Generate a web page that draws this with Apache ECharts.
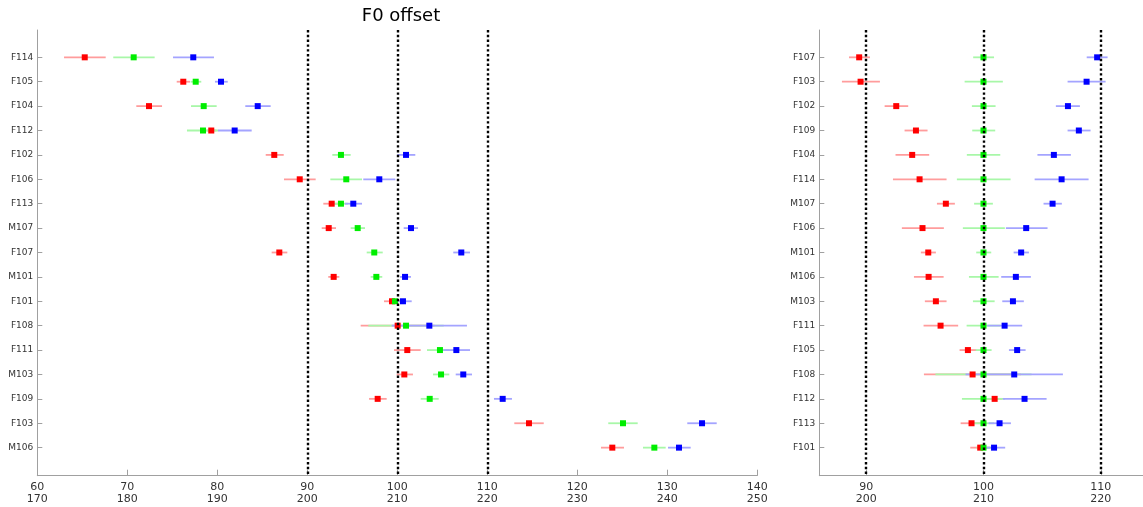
<!DOCTYPE html>
<html>
<head>
<meta charset="utf-8">
<script src="https://cdn.jsdelivr.net/npm/echarts@6/dist/echarts.min.js"></script>
<style>
html,body{margin:0;padding:0;background:#fff;}
#chart{width:1143px;height:507px;}
</style>
</head>
<body>
<div id="chart"></div>
<script>
// ---------- Left panel (absolute offsets) ----------
const leftCats = ['F114','F105','F104','F112','F102','F106','F113','M107','F107','M101','F101','F108','F111','M103','F109','F103','M106'];
const leftRed    = [65.27,76.22,72.41,79.33,86.33,89.16,92.71,92.38,86.89,92.93,99.41,100.04,101.11,100.78,97.82,114.63,123.89];
const leftRedLo  = [62.97,75.49,71.00,78.80,85.38,87.41,91.78,91.60,86.04,92.33,98.52,95.93,99.63,99.93,96.86,113.00,122.63];
const leftRedHi  = [67.60,76.97,73.86,79.90,87.38,90.93,93.56,93.19,87.78,93.56,100.30,104.15,102.60,101.74,98.82,116.27,125.19];
const leftGreen   = [70.71,77.60,78.49,78.41,93.74,94.33,93.74,95.60,97.44,97.67,99.74,100.97,104.74,104.86,103.60,125.08,128.56];
const leftGreenLo = [68.44,77.04,77.08,76.63,92.78,92.56,93.00,94.82,96.60,97.04,99.10,96.78,103.30,103.97,102.60,123.44,127.30];
const leftGreenHi = [73.04,78.22,79.93,80.11,94.82,96.08,94.50,96.41,98.38,98.33,100.40,105.16,105.78,105.78,104.60,126.71,129.82];
const leftBlue   = [77.33,80.41,84.49,81.93,100.97,98.00,95.11,101.52,107.11,100.86,100.63,103.56,106.56,107.33,111.71,133.86,131.30];
const leftBlueLo = [75.08,79.74,83.11,80.08,100.00,96.22,94.19,100.71,106.22,100.30,99.74,99.38,105.11,106.49,110.74,132.22,130.08];
const leftBlueHi = [79.63,81.16,85.93,83.82,102.00,99.78,96.08,102.30,108.08,101.52,101.60,107.74,108.08,108.30,112.74,135.49,132.60];
const leftTopTicks    = [60,70,80,90,100,110,120,130,140];
const leftBottomTicks = [170,180,190,200,210,220,230,240,250];
const leftRefLines = [90,100,110];

// ---------- Right panel (normalised to green = 100) ----------
const rightCats = ['F107','F103','F102','F109','F104','F114','M107','F106','M101','M106','M103','F111','F105','F108','F112','F113','F101'];
const rightRed    = [89.40,89.52,92.56,94.24,93.92,94.55,96.79,94.80,95.29,95.32,95.94,96.34,98.67,99.07,100.95,98.98,99.72];
const rightRedLo  = [88.53,87.93,91.57,93.27,92.50,92.28,96.03,93.04,94.66,94.07,95.00,94.89,97.96,94.92,100.30,98.05,98.87];
const rightRedHi  = [90.32,91.17,93.58,95.23,95.37,96.85,97.56,96.62,95.94,96.60,96.85,97.84,99.38,103.20,101.60,99.89,100.57];
const rightGreen   = [100,100,100,100,100,100,100,100,100,100,100,100,100,100,100,100,100];
const rightGreenLo = [99.12,98.39,99.01,99.04,98.58,97.73,99.20,98.24,99.38,98.76,99.10,98.56,99.33,95.90,98.16,99.10,99.40];
const rightGreenHi = [100.90,101.65,101.03,101.00,101.43,102.31,100.80,101.82,100.66,101.29,100.95,101.44,100.69,104.10,101.84,100.90,100.60];
const rightBlue   = [109.69,108.79,107.20,108.13,106.00,106.66,105.89,103.64,103.21,102.76,102.51,101.80,102.87,102.62,103.50,101.37,100.90];
const rightBlueLo = [108.80,107.17,106.17,107.17,104.60,104.36,105.12,101.91,102.57,101.51,101.60,100.32,102.17,98.47,101.65,100.43,100.20];
const rightBlueHi = [110.58,110.41,108.22,109.13,107.45,108.96,106.68,105.46,103.87,104.04,103.44,103.30,103.59,106.77,105.38,102.34,101.85];
const rightTopTicks    = [90,100,110];
const rightBottomTicks = [200,210,220];
const rightRefLines = [90,100,110];

const FONT = 'DejaVu Sans';
const ERR = {red:'#ff9c9c', green:'#a8f7a8', blue:'#a4a4ff'};
const MARK = {red:'#ff0000', green:'#00ee00', blue:'#0000ff'};

function errSeries(gi, lo, hi, color){
  return {
    type:'custom', xAxisIndex:gi, yAxisIndex:gi, z:2, silent:true,
    data: lo.map((l,i)=>[l, hi[i], i]),
    renderItem:function(params, api){
      const a = api.coord([api.value(0), api.value(2)]);
      const b = api.coord([api.value(1), api.value(2)]);
      return {type:'line', shape:{x1:a[0],y1:a[1],x2:b[0],y2:b[1]}, style:{stroke:color, lineWidth:1.8}};
    }
  };
}
function markSeries(gi, vals, color){
  return {
    type:'scatter', xAxisIndex:gi, yAxisIndex:gi, z:3, silent:true,
    symbol:'rect', symbolSize:6, itemStyle:{color:color, opacity:1},
    data: vals.map((v,i)=>[v,i])
  };
}
function refSeries(gi, lines){
  return {
    type:'scatter', xAxisIndex:gi, yAxisIndex:gi, z:1, silent:true, data:[],
    markLine:{silent:true, symbol:['none','none'], label:{show:false},
      lineStyle:{color:'#000', type:'dotted', width:2.4, opacity:1},
      emphasis:{disabled:true},
      data: lines.map(v=>({xAxis:v}))}
  };
}
function yAxisFor(gi, cats){
  return {
    type:'value', gridIndex:gi, inverse:true, min:-1.12, max:17.15,
    axisLine:{show:true, onZero:false, lineStyle:{color:'#a0a0a0', width:1}},
    axisTick:{show:true, inside:true, length:5, lineStyle:{color:'#a0a0a0'}, customValues:cats.map((c,i)=>i)},
    axisLabel:{color:'#333', fontFamily:FONT, fontSize:9, margin:4, customValues:cats.map((c,i)=>i),
      formatter:v=>cats[Math.round(v)]},
    splitLine:{show:false}
  };
}

const leftGridLeft = 37.3, gridTop = 30, gridH = 445.7;
const option = {
  animation:false,
  backgroundColor:'#fff',
  title:{text:'F0 offset', left:396, top:2, textAlign:'center',
    textStyle:{fontFamily:FONT, fontSize:18, fontWeight:'normal', color:'#000'}},
  grid:[
    {left:leftGridLeft, top:gridTop, width:720, height:gridH},
    {left:819.3, top:gridTop, width:323.7, height:gridH}
  ],
  xAxis:[
    {type:'value', gridIndex:0, min:60, max:140, interval:10,
     axisLine:{show:true, onZero:false, lineStyle:{color:'#a0a0a0'}},
     axisTick:{show:true, inside:true, length:6, lineStyle:{color:'#a0a0a0'}},
     axisLabel:{color:'#333', fontFamily:FONT, fontSize:11, lineHeight:12, margin:5,
       formatter:v=>{const k=leftTopTicks.indexOf(v); return k<0?'':leftTopTicks[k]+'\n'+leftBottomTicks[k];}},
     splitLine:{show:false}},
    {type:'value', gridIndex:1, min:86, max:113.6,
     axisLine:{show:true, onZero:false, lineStyle:{color:'#a0a0a0'}},
     axisTick:{show:true, inside:true, length:6, lineStyle:{color:'#a0a0a0'}, customValues:rightTopTicks},
     axisLabel:{color:'#333', fontFamily:FONT, fontSize:11, lineHeight:12, margin:5, customValues:rightTopTicks,
       formatter:v=>{const k=rightTopTicks.indexOf(Math.round(v)); return k<0?'':rightTopTicks[k]+'\n'+rightBottomTicks[k];}},
     splitLine:{show:false}}
  ],
  yAxis:[yAxisFor(0,leftCats), yAxisFor(1,rightCats)],
  series:[
    refSeries(0,leftRefLines),
    errSeries(0,leftRedLo,leftRedHi,ERR.red),
    errSeries(0,leftGreenLo,leftGreenHi,ERR.green),
    errSeries(0,leftBlueLo,leftBlueHi,ERR.blue),
    markSeries(0,leftRed,MARK.red),
    markSeries(0,leftGreen,MARK.green),
    markSeries(0,leftBlue,MARK.blue),
    refSeries(1,rightRefLines),
    errSeries(1,rightRedLo,rightRedHi,ERR.red),
    errSeries(1,rightGreenLo,rightGreenHi,ERR.green),
    errSeries(1,rightBlueLo,rightBlueHi,ERR.blue),
    markSeries(1,rightRed,MARK.red),
    markSeries(1,rightGreen,MARK.green),
    markSeries(1,rightBlue,MARK.blue)
  ]
};
const chart = echarts.init(document.getElementById('chart'), null, {renderer:'canvas'});
chart.setOption(option);
</script>
</body>
</html>
